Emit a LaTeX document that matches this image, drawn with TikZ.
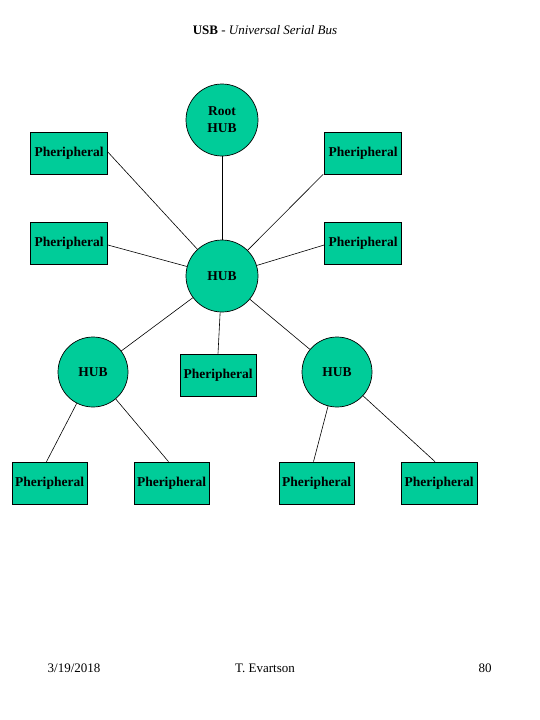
\documentclass[tikz,border=0pt]{standalone}
\usepackage{fontspec}
\setmainfont{Liberation Serif}
\begin{document}
\begin{tikzpicture}[x=1pt,y=-1pt,
  hubnode/.style={circle,draw=black,line width=0.7pt,fill=hubfill,minimum size=72pt,inner sep=0pt,font=\fontsize{13.5}{17}\selectfont\bfseries,align=center},
  perbox/.style={rectangle,draw=black,line width=0.7pt,fill=hubfill,minimum width=77pt,minimum height=42pt,inner sep=0pt,font=\fontsize{13.5}{17}\selectfont\bfseries},
  link/.style={draw=black,line width=0.6pt},
  plain/.style={font=\fontsize{13}{16}\selectfont}]
\definecolor{hubfill}{RGB}{0,204,153}
\useasboundingbox (0,0) rectangle (540,720);
\fill[white] (0,0) rectangle (540,720);
% title
\node (title) at (265,30) {\fontsize{13}{15}\selectfont\textbf{USB} - \textit{Universal Serial Bus}};
% nodes
\node[hubnode] (root) at (222,120) {Root\\HUB};
\node[hubnode] (hub) at (222,276) {HUB};
\node[hubnode,minimum size=70pt] (lhub) at (93,372) {HUB};
\node[hubnode,minimum size=70pt] (rhub) at (337,372) {HUB};
\node[perbox] (ptl) at (69,153) {Pheripheral};
\node[perbox] (ptr) at (363,153) {Pheripheral};
\node[perbox] (pml) at (69,243) {Pheripheral};
\node[perbox] (pmr) at (363,243) {Pheripheral};
\node[perbox,minimum width=76pt] (pmid) at (218,375) {Pheripheral};
\node[perbox,minimum width=75pt] (pb1) at (49.5,483) {Pheripheral};
\node[perbox,minimum width=75pt] (pb2) at (171.5,483) {Pheripheral};
\node[perbox,minimum width=75pt] (pb3) at (316.5,483) {Pheripheral};
\node[perbox,minimum width=76pt] (pb4) at (439,483) {Pheripheral};
% connectors
\draw[link] (root) -- (hub);
\draw[link] ([yshift=1pt]ptl.east) -- (hub);
\draw[link] ([yshift=-2pt]pml.east) -- (hub);
\draw[link] ([xshift=-1pt]ptr.south west) -- (hub);
\draw[link] ([yshift=-2pt]pmr.west) -- (hub);
\draw[link] (hub) -- (lhub);
\draw[link] (hub) -- (pmid.north);
\draw[link] (hub) -- (rhub);
\draw[link] (lhub) -- ([xshift=-3pt]pb1.north);
\draw[link] (lhub) -- ([xshift=-3pt]pb2.north);
\draw[link] (rhub) -- ([xshift=-3pt]pb3.north);
\draw[link] (rhub) -- ([xshift=-4pt]pb4.north);
% footer
\node[plain] (date) at (74,668) {3/19/2018};
\node[plain] (author) at (265,668) {T. Evartson};
\node[plain] (page) at (485,668) {80};
\end{tikzpicture}
\end{document}
